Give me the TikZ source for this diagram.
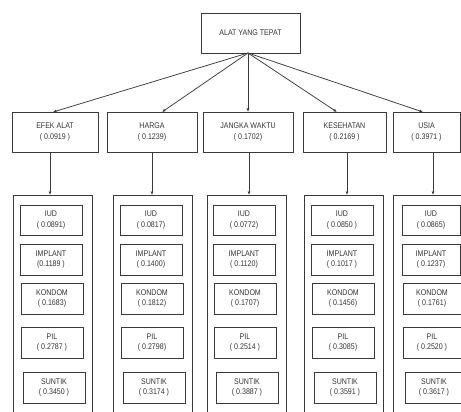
\documentclass[tikz,border=0pt]{standalone}
\usepackage{fontspec}
\setmainfont{Liberation Sans}[FakeStretch=0.86]
\usetikzlibrary{arrows.meta}
\definecolor{linec}{HTML}{3A3A3A}
\definecolor{txtc}{HTML}{333333}
\begin{document}
\begin{tikzpicture}[x=1pt,y=-1pt,
  box/.style={draw=linec, line width=0.9pt, inner sep=0pt, outer sep=0pt, align=center,
    font=\fontsize{8.2}{10.6}\selectfont, text=txtc},
  crit/.style={box, minimum height=40},
  outerbox/.style={draw=linec, line width=0.9pt, inner sep=0pt, outer sep=0pt, minimum width=79, minimum height=230},
  alt/.style={box, minimum width=62, minimum height=31},
  arr/.style={draw=linec, line width=0.75pt, -{Latex[length=3.5pt,width=3pt]}}]
\useasboundingbox (0,0) rectangle (461,412);
\clip (0,0) rectangle (461,412);

\node[box, minimum width=99, minimum height=40] (top) at (250.5,33) {ALAT YANG TEPAT};

\node[crit, minimum width=86] (c1) at (55,132) {EFEK ALAT\\( 0.0919 )};
\node[crit, minimum width=90] (c2) at (152,132) {HARGA\\( 0.1239)};
\node[crit, minimum width=90] (c3) at (248,132) {JANGKA WAKTU\\( 0.1702)};
\node[crit, minimum width=83] (c4) at (344.5,132) {KESEHATAN\\( 0.2169 )};
\node[crit, minimum width=67] (c5) at (426.5,132) {USIA\\( 0.3971 )};

\draw[arr] ([xshift=-2.5]top.south) -- ([xshift=-2]c1.north);
\draw[arr] ([xshift=-2.5]top.south) -- ([xshift=10]c2.north);
\draw[arr] ([xshift=-2.5]top.south) -- ([xshift=0]c3.north);
\draw[arr] ([xshift=-2.5]top.south) -- ([xshift=-7.5]c4.north);
\draw[arr] ([xshift=-2.5]top.south) -- ([xshift=-3.5]c5.north);

\node[outerbox] (o1) at (52.5,310) {};
\node[outerbox] (o2) at (152.5,310) {};
\node[outerbox] (o3) at (246.5,310) {};
\node[outerbox] (o4) at (343.5,310) {};
\node[outerbox, minimum width=77] (o5) at (431.5,310) {};

\draw[arr] ([xshift=-5]c1.south) -- ([xshift=-5]c1.south |- o1.north);
\draw[arr] ([xshift=0]c2.south) -- ([xshift=0]c2.south |- o2.north);
\draw[arr] ([xshift=1]c3.south) -- ([xshift=1]c3.south |- o3.north);
\draw[arr] ([xshift=2.5]c4.south) -- ([xshift=2.5]c4.south |- o4.north);
\draw[arr] ([xshift=6.5]c5.south) -- ([xshift=6.5]c5.south |- o5.north);

% column 1
\node[alt, minimum height=30] (a1) at (51,220) {IUD\\( 0.0891)};
\node[alt] (a2) at (51,259.5) {IMPLANT\\(0.1189 )};
\node[alt] (a3) at (52,298.5) {KONDOM\\( 0.1683)};
\node[alt] (a4) at (52,342.5) {PIL\\( 0.2787 )};
\node[alt] (a5) at (54,387.5) {SUNTIK\\( 0.3450 )};
% column 2
\node[alt, minimum height=30] (b1) at (151,220) {IUD\\( 0.0817)};
\node[alt] (b2) at (151,259.5) {IMPLANT\\( 0.1400)};
\node[alt] (b3) at (152,298.5) {KONDOM\\( 0.1812)};
\node[alt] (b4) at (152,342.5) {PIL\\( 0.2798)};
\node[alt] (b5) at (154,387.5) {SUNTIK\\( 0.3174 )};
% column 3
\node[alt, minimum height=30] (d1) at (244,220) {IUD\\( 0.0772)};
\node[alt] (d2) at (244,259.5) {IMPLANT\\( 0.1120)};
\node[alt] (d3) at (245,298.5) {KONDOM\\( 0.1707)};
\node[alt] (d4) at (245,342.5) {PIL\\( 0.2514 )};
\node[alt] (d5) at (247,387.5) {SUNTIK\\( 0.3887 )};
% column 4
\node[alt, minimum height=30] (e1) at (342,220) {IUD\\( 0.0850 )};
\node[alt] (e2) at (342,259.5) {IMPLANT\\( 0.1017 )};
\node[alt] (e3) at (343,298.5) {KONDOM\\( 0.1456)};
\node[alt] (e4) at (343,342.5) {PIL\\( 0.3085)};
\node[alt] (e5) at (345,387.5) {SUNTIK\\( 0.3591 )};
% column 5
\node[alt, minimum width=58, minimum height=30] (f1) at (431,220) {IUD\\( 0.0865)};
\node[alt, minimum width=58] (f2) at (431,259.5) {IMPLANT\\( 0.1237)};
\node[alt, minimum width=58] (f3) at (432,298.5) {KONDOM\\( 0.1761)};
\node[alt, minimum width=58] (f4) at (432,342.5) {PIL\\( 0.2520 )};
\node[alt, minimum width=58] (f5) at (434,387.5) {SUNTIK\\( 0.3617 )};
\end{tikzpicture}
\end{document}
